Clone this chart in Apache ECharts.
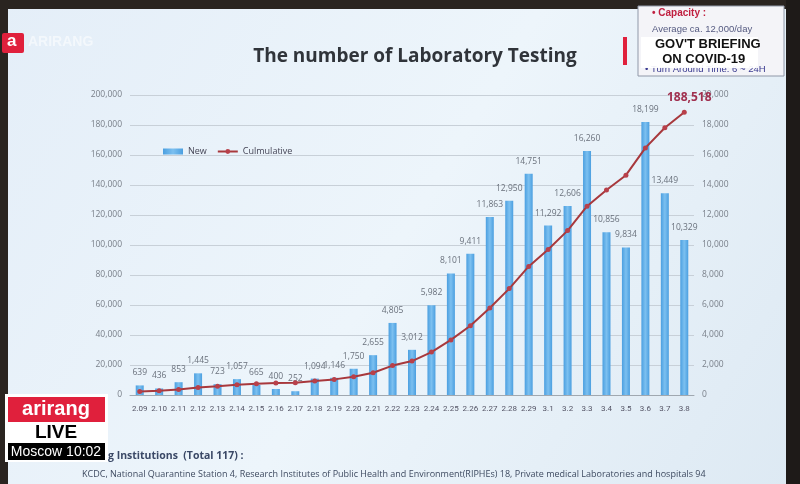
<!DOCTYPE html>
<html>
<head>
<meta charset="utf-8">
<script src="https://cdn.jsdelivr.net/npm/echarts@6/dist/echarts.min.js"></script>
<style>
html,body{margin:0;padding:0;background:#1a1a1a;}
#chart{width:800px;height:484px;}
</style>
</head>
<body>
<div id="chart"></div>
<script>
const categories = ['2.09','2.10','2.11','2.12','2.13','2.14','2.15','2.16','2.17','2.18','2.19','2.20','2.21','2.22','2.23','2.24','2.25','2.26','2.27','2.28','2.29','3.1','3.2','3.3','3.4','3.5','3.6','3.7','3.8'];
const newTests = [639,436,853,1445,723,1057,665,400,252,1094,1146,1750,2655,4805,3012,5982,8101,9411,11863,12950,14751,11292,12606,16260,10856,9834,18199,13449,10329];
const cumulative = [2342,2778,3631,5076,5799,6856,7521,7921,8173,9267,10413,12163,14818,19623,22635,28617,36718,46129,57992,70942,85693,96985,109591,125851,136707,146541,164740,178189,188518];
const leftTicks = {min:0, max:200000, interval:20000};
const rightTicks = {min:0, max:20000, interval:2000};
const titleText = 'The number of Laboratory Testing';
const footer1 = 'g Institutions  (Total 117) :';
const footer2 = 'KCDC, National Quarantine Station 4, Research Institutes of Public Health and Environment(RIPHEs) 18, Private medical Laboratories and hospitals 94';

const chart = echarts.init(document.getElementById('chart'));
const fmt = v => v.toLocaleString('en-US');

const lineData = cumulative.map((v,i) => i === cumulative.length-1 ? {
  value: v,
  label: {show:true, position:'top', distance:6, offset:[5,0], formatter: p => fmt(p.value),
          color:'#a0304f', fontWeight:'bold', fontSize:12, fontFamily:'Open Sans'}
} : v);

chart.setOption({
  backgroundColor: {
    type:'linear', x:0, y:0, x2:1, y2:1,
    colorStops:[{offset:0,color:'#e4eef8'},{offset:0.5,color:'#edf5fb'},{offset:1,color:'#dde9f3'}]
  },
  textStyle:{fontFamily:'Open Sans'},
  animation:false,
  grid:{left:130, right:106, top:95, bottom:89},
  legend:{
    left:158, top:142, itemWidth:20, itemHeight:6, itemGap:10,
    textStyle:{fontSize:9, color:'#445'},
    data:[{name:'New', icon:'rect'}, {name:'Culmulative'}]
  },
  xAxis:{
    type:'category', data:categories,
    axisLine:{lineStyle:{color:'#a0a8b0'}},
    axisTick:{show:false},
    axisLabel:{color:'#556', fontSize:8, margin:10, interval:0, fontFamily:'Roboto'}
  },
  yAxis:[
    {type:'value', ...leftTicks,
     axisLabel:{color:'#7a808a', fontSize:8.5, formatter: v => fmt(v), margin:8},
     splitLine:{lineStyle:{color:'#c8d0d8'}},
     axisLine:{show:false}, axisTick:{show:false}},
    {type:'value', ...rightTicks,
     axisLabel:{color:'#7a808a', fontSize:8.5, formatter: v => fmt(v), margin:8},
     splitLine:{show:false},
     axisLine:{show:false}, axisTick:{show:false}}
  ],
  series:[
    {name:'New', type:'bar', yAxisIndex:1, data:newTests, barWidth:8,
     itemStyle:{color:{type:'linear',x:0,y:0,x2:1,y2:0,colorStops:[{offset:0,color:'#4b9fe0'},{offset:0.5,color:'#7cc0f0'},{offset:1,color:'#4b9fe0'}]}},
     label:{show:true, position:'top', distance:8, color:'#6a717c', fontSize:8.5, formatter: p => fmt(p.value)}},
    {name:'Culmulative', type:'line', yAxisIndex:0, data:lineData,
     symbol:'circle', symbolSize:5,
     lineStyle:{color:'#a8383c', width:2},
     itemStyle:{color:'#b8404a'}}
  ],
  graphic:[
    {type:'text', x:415, y:57, style:{text:titleText, fontSize:19, fontWeight:'bold', fill:'#30343a', fontFamily:'Open Sans', align:'center', verticalAlign:'middle'}, z:5},
    {type:'text', left:108, top:451, style:{text:footer1, fontSize:10.5, fontWeight:'bold', fill:'#3a4866', fontFamily:'Open Sans'}},
    {type:'text', left:82, top:470, style:{text:footer2, fontSize:9, fill:'#3e4a60', fontFamily:'Open Sans'}},
    // screen frame
    {type:'rect', shape:{x:0,y:0,width:800,height:9}, style:{fill:'#2a2420'}, z:10},
    {type:'rect', shape:{x:0,y:0,width:8,height:484}, style:{fill:'#2a2420'}, z:10},
    {type:'rect', shape:{x:786,y:0,width:14,height:484}, style:{fill:'#1e1a18'}, z:10},
    // top-right info box
    {type:'rect', shape:{x:638,y:6,width:146,height:70}, style:{fill:'#f4f4f8', stroke:'#9098a8', lineWidth:1}, z:11},
    {type:'text', left:652, top:8, style:{text:'• Capacity :', fontSize:10, fontWeight:'bold', fill:'#c02040'}, z:12},
    {type:'text', left:652, top:24, style:{text:'Average ca. 12,000/day', fontSize:9.5, fill:'#555a80'}, z:12},
    {type:'text', left:645, top:64, style:{text:'• Turn Around Time: 6 ~ 24H', fontSize:9.5, fill:'#3a3a90'}, z:12},
    {type:'rect', shape:{x:623,y:37,width:4,height:28}, style:{fill:'#e0203c'}, z:13},
    {type:'rect', shape:{x:641,y:37,width:117,height:31}, style:{fill:'rgba(255,255,255,0.93)'}, z:13},
    {type:'text', left:655, top:37, style:{text:"GOV'T BRIEFING\n  ON COVID-19", fontSize:13, fontWeight:'bold', fill:'#111', fontFamily:'Liberation Sans', lineHeight:15}, z:14},
    // top-left logo
    {type:'rect', shape:{x:2,y:33,width:22,height:20, r:2}, style:{fill:'#e0203c'}, z:11},
    {type:'text', x:7, y:33, style:{text:'a', fontSize:17, fontWeight:'bold', fill:'#fff'}, z:12},
    {type:'text', x:28, y:35, style:{text:'ARIRANG', fontSize:14, fontWeight:'bold', fill:'rgba(255,255,255,0.55)'}, z:12},
    // bottom-left live bug
    {type:'rect', shape:{x:5,y:394,width:103,height:68}, style:{fill:'#ffffff'}, z:11},
    {type:'rect', shape:{x:8,y:397,width:97,height:25}, style:{fill:'#e0203c'}, z:12},
    {type:'text', x:56, y:409, style:{text:'arirang', fontSize:20, fontWeight:'bold', fill:'#fff', align:'center', verticalAlign:'middle', fontFamily:'Liberation Sans'}, z:13},
    {type:'text', x:56, y:433, style:{text:'LIVE', fontSize:19, fontWeight:'bold', fill:'#000', align:'center', verticalAlign:'middle', fontFamily:'Liberation Sans'}, z:13},
    {type:'rect', shape:{x:8,y:443,width:97,height:17}, style:{fill:'#000'}, z:12},
    {type:'text', x:56, y:452, style:{text:'Moscow 10:02', fontSize:14, fill:'#fff', align:'center', verticalAlign:'middle', fontFamily:'Liberation Sans'}, z:13}
  ]
});
</script>
</body>
</html>
